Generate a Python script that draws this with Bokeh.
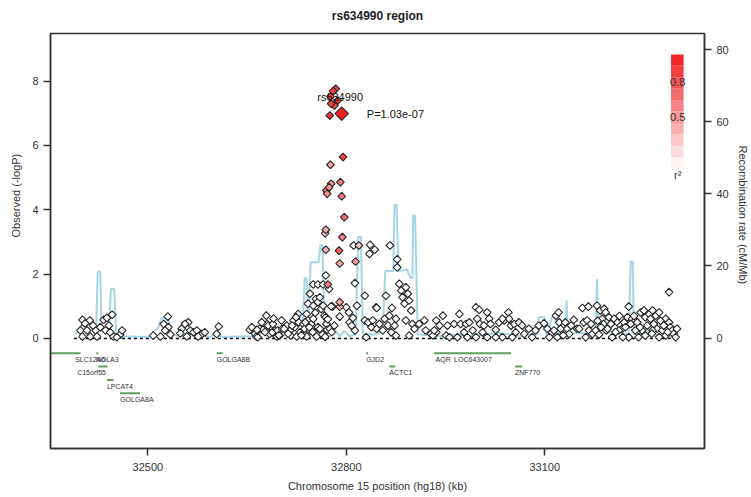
import math
from bokeh.plotting import figure
from bokeh.models import Range1d, LinearAxis, FixedTicker, Title
from bokeh.embed import file_html
from bokeh.resources import INLINE
from bokeh.core.properties import value

FONT = "Liberation Sans"
TXT = "#333333"

# ---------------- data ----------------
# SNPs with r2 ~ 0 (white): position (kb, hg18) and -log10(P)
bg_pos = (
    [32401, 32412, 32403, 32398, 32408, 32401, 32413, 32421, 32423, 32433, 32438, 32446, 32441, 32436, 32443, 32448, 32458, 32461, 32428, 32417, 32405, 32453]
    + [32530, 32524, 32531, 32526, 32508, 32519, 32534, 32561, 32556, 32551, 32549, 32564, 32569, 32574, 32559, 32582, 32586, 32576, 32607, 32604]
    + [32679, 32680, 32654, 32662, 32669, 32674, 32664, 32687, 32692, 32684, 32695, 32665, 32666, 32682, 32689, 32688, 32696, 32702, 32703, 32699]
    + [32710, 32715, 32720, 32722, 32727, 32728, 32730, 32735, 32737, 32740, 32742, 32745, 32747, 32750, 32752, 32716, 32725, 32740, 32755, 32757]
    + [32742, 32750, 32745, 32754, 32757, 32760, 32762, 32765, 32767, 32769, 32770, 32771, 32775, 32750, 32757, 32765, 32769, 32774, 32779, 32777]
    + [32790, 32800, 32804, 32805, 32808, 32813, 32816, 32813, 32810, 32828, 32828, 32833, 32830, 32838, 32840, 32845, 32846, 32846, 32850, 32855]
    + [32858, 32860, 32863, 32865, 32868, 32869, 32873, 32875, 32875, 32880, 32883, 32885, 32888, 32890, 32893, 32895, 32898, 32890, 32900, 32903]
    + [32895, 32910, 32918, 32920, 32928, 32936, 32936, 32931, 32811, 32836, 32843, 32835, 32866, 32877, 32877]
    + [32946, 32941, 32933, 32951, 32953, 32963, 32971, 32973, 32981, 32986, 32978, 32991, 32983, 32996, 33001, 32998, 33002, 33008, 33013, 33016]
    + [33018, 33006, 33013, 32996, 33026, 33031, 33039, 33045, 33046, 33036, 33049, 33054, 33061, 33056, 33066, 33069, 33076, 33081, 33086, 33091]
    + [33099, 33104, 33111, 33107, 33117, 33121, 33122, 33124, 33119, 32956, 32968, 33051, 33026, 33036, 33114, 33131, 33134, 33137, 33144, 33149]
    + [33157, 33166, 33159, 33164, 33167, 33172, 33162, 33177, 33179, 33184, 33190, 33192, 33187, 33189, 33185, 33193, 33182, 33197, 33205, 33210]
    + [33215, 33217, 33212, 33220, 33227, 33225, 33227, 33218, 33202, 33232, 33237, 33245, 33250, 33252, 33258, 33263, 33260, 33268, 33273, 33265]
    + [33270, 33278, 33283, 33288, 33290, 33293, 33288, 33295, 33298, 33247, 33252, 33242, 33273, 33283, 33237, 33263]
    + [32657, 32672, 32677, 32690, 32698, 32706, 32712, 32718, 32724, 32732, 32738, 32744, 32749, 32753, 32760, 32764, 32768, 32772, 32778, 32782]
    + [33180, 33195, 33200, 33207, 33213, 33222, 33230, 33235, 33240, 33244, 33255, 33262, 33275, 33280, 33286, 33300, 33170, 33152, 33140, 33128]
)
bg_logp = (
    [0.58, 0.56, 0.35, 0.25, 0.25, 0.06, 0.06, 0.25, 0.06, 0.58, 0.64, 0.74, 0.40, 0.25, 0.19, 0.06, 0.12, 0.25, 0.35, 0.40, 0.47, 0.04]
    + [0.68, 0.45, 0.35, 0.25, 0.09, 0.06, 0.12, 0.50, 0.45, 0.30, 0.16, 0.25, 0.19, 0.25, 0.06, 0.14, 0.19, 0.06, 0.37, 0.14]
    + [0.71, 0.45, 0.27, 0.14, 0.30, 0.27, 0.06, 0.35, 0.25, 0.14, 0.06, 0.27, 0.04, 0.40, 0.45, 0.19, 0.25, 0.56, 0.30, 0.09]
    + [0.40, 0.25, 0.56, 0.35, 0.76, 0.50, 0.19, 0.45, 0.30, 0.76, 0.56, 0.25, 0.45, 0.61, 0.19, 0.09, 0.06, 0.06, 0.06, 0.35]
    + [1.08, 1.02, 1.39, 1.23, 1.13, 1.28, 0.92, 1.02, 0.71, 0.66, 0.45, 0.27, 0.30, 1.68, 1.68, 1.68, 1.96, 1.54, 0.99, 1.00]
    + [0.68, 0.97, 0.81, 0.50, 0.40, 0.25, 1.02, 1.72, 0.64, 1.33, 0.56, 0.50, 0.04, 0.35, 0.56, 0.97, 0.30, 0.95, 0.45, 0.25]
    + [0.61, 1.33, 0.40, 0.71, 0.19, 0.95, 0.40, 0.61, 0.09, 1.70, 1.49, 1.28, 1.08, 1.59, 1.39, 1.18, 0.87, 0.56, 0.45, 0.30]
    + [0.09, 0.45, 0.56, 0.25, 0.14, 0.56, 0.19, 0.09, 2.89, 2.91, 2.76, 2.63, 2.89, 2.46, 2.21]
    + [0.71, 0.40, 0.25, 0.09, 0.40, 0.45, 0.76, 0.45, 0.45, 0.50, 0.19, 0.25, 0.04, 0.97, 0.89, 0.61, 0.45, 0.40, 0.81, 0.61]
    + [0.45, 0.19, 0.04, 0.04, 0.27, 0.50, 0.56, 0.81, 0.61, 0.04, 0.40, 0.45, 0.50, 0.19, 0.40, 0.14, 0.30, 0.04, 0.25, 0.40]
    + [0.47, 0.30, 0.19, 0.04, 0.71, 0.81, 0.50, 0.30, 0.04, 0.04, 0.04, 0.04, 0.04, 0.61, 0.25, 0.50, 0.30, 0.14, 0.58, 0.30]
    + [0.95, 0.99, 0.50, 0.56, 0.25, 0.14, 0.04, 0.25, 1.02, 0.87, 0.92, 0.81, 0.61, 0.45, 0.35, 0.25, 0.12, 0.66, 0.61, 0.50]
    + [0.40, 0.30, 0.25, 0.50, 0.99, 0.66, 0.04, 0.04, 0.04, 0.61, 0.56, 0.81, 0.87, 0.66, 0.76, 0.87, 0.61, 0.71, 0.81, 0.45]
    + [0.30, 0.25, 0.61, 0.50, 0.35, 0.25, 1.44, 0.14, 0.04, 0.25, 0.09, 0.04, 0.04, 0.09, 0.25, 0.25]
    + [0.35, 0.50, 0.20, 0.62, 0.10, 0.30, 0.15, 0.40, 0.66, 0.10, 0.50, 0.35, 0.20, 0.80, 0.30, 0.12, 0.05, 0.60, 0.20, 0.40]
    + [0.55, 0.30, 0.45, 0.20, 0.70, 0.35, 0.45, 0.70, 0.50, 0.35, 0.40, 0.15, 0.55, 0.40, 0.20, 0.30, 0.45, 0.30, 0.40, 0.10]
)

# SNPs in LD with the index SNP
ld_pos = [32784, 32780, 32776, 32787, 32777, 32782, 32775, 32795, 32776, 32791, 32777, 32774, 32770, 32771,
          32793, 32797, 32769, 32768, 32794, 32789, 32769, 32790, 32814, 32819, 32772, 32790, 32790]
ld_logp = [7.76, 7.69, 7.52, 7.40, 7.30, 7.24, 6.93, 5.64, 5.40, 4.86, 4.81, 4.70, 4.60, 4.50,
           4.42, 3.77, 3.38, 3.27, 3.15, 2.73, 2.76, 2.33, 2.39, 2.89, 1.68, 1.13, 0.99]
ld_r2 = [0.85, 0.85, 0.85, 0.9, 0.85, 0.8, 0.9, 0.85, 0.4, 0.6, 0.45, 0.5, 0.45, 0.5,
         0.6, 0.65, 0.35, 0.3, 0.55, 0.7, 0.35, 0.4, 0.45, 0.25, 0.6, 0.4, 0.3]

index_name = "rs634990"
index_pos = [32793]
index_logp = [6.99]
index_p = "P=1.03e-07"

# recombination rate (cM/Mb)
recomb_pos = [32390, 32398, 32405, 32422, 32424, 32428, 32430, 32437, 32442, 32444, 32449, 32452, 32458, 32496,
              32503, 32516, 32520, 32531, 32535, 32549, 32556, 32564, 32571, 32594, 32603, 32612, 32662, 32672,
              32677, 32684, 32692, 32722, 32730, 32734, 32737, 32740, 32743, 32746, 32754, 32758, 32761, 32764,
              32767, 32775, 32784, 32790, 32797, 32805, 32814, 32818, 32822, 32825, 32843, 32855, 32859, 32867,
              32871, 32873, 32876, 32879, 32892, 32897, 32900, 32901, 32904, 32908, 32941, 32971, 32986, 33031,
              33061, 33076, 33088, 33091, 33100, 33103, 33111, 33117, 33122, 33131, 33133, 33135, 33152, 33177,
              33179, 33181, 33205, 33227, 33230, 33233, 33235, 33258, 33273, 33303]
recomb_rate = [1, 3, 4, 4, 18.4, 18.4, 2, 2, 4, 13.6, 13.6, 1, 0.5, 0.3,
               0.5, 3, 5.5, 5.5, 1, 0.5, 1, 2.5, 1, 0.3, 1.5, 0.3, 0.5, 1.5,
               1, 1.5, 0.8, 0.8, 2, 3, 16.6, 16.6, 5, 21, 21, 21, 25.8, 25.8,
               1, 0.5, 2, 0.5, 2, 0.5, 1, 28, 28, 1, 1, 2, 18.6, 18.6,
               18.6, 37, 37, 18.6, 19, 16.7, 16.7, 34, 34, 1, 0.5, 1, 0.5, 1.5,
               0.5, 1, 1, 5.8, 5.8, 1, 5.8, 5.8, 1, 1, 10.5, 1, 1.5, 1,
               16.3, 1, 2, 1, 21.2, 21.2, 1, 2, 0.5, 0.5]

# genes
gene_names = ["SLC12A6", "NOLA3", "C15orf55", "LPCAT4", "GOLGA8A", "GOLGA8B", "GJD2", "ACTC1", "AQR", "LOC643007", "ZNF770"]
gene_start = [32320, 32422, 32425, 32438, 32458, 32604, 32830, 32865, 32933, 33020, 33055]
gene_end = [32398, 32425, 32439, 32448, 32488, 32613, 32833, 32874, 33020, 33049, 33066]
gene_row = [0, 0, 1, 2, 3, 0, 0, 1, 0, 0, 1]

x_ticks = [32500, 32800, 33100]
y_ticks = [0, 2, 4, 6, 8]
rate_ticks = [0, 20, 40, 60, 80]
legend_levels = [0.05, 0.15, 0.25, 0.35, 0.45, 0.55, 0.65, 0.75, 0.85, 0.95]

# ---------------- layout / style ----------------
ROW_Y = [-0.46, -0.87, -1.29, -1.70]
LABEL_DY = -0.20
gene_label_x = [32390, 32421, 32393, 32438, 32458, 32604, 32830, 32865, 32935, 32963, 33055]


def r2_color(r2):
    r = round(255 - 17 * r2)
    g = round(255 - 225 * r2)
    return "#%02x%02x%02x" % (r, g, g)


p = figure(width=751, height=497,
           x_range=Range1d(32352.7, 33341.6), y_range=Range1d(-3.42, 9.48),
           output_backend="svg", toolbar_location=None, title="rs634990 region",
           min_border_left=50, min_border_right=45, min_border_top=33, min_border_bottom=49)
p.extra_y_ranges = {"recomb": Range1d(-30.6, 84.45)}
p.xgrid.visible = False
p.ygrid.visible = False
p.background_fill_color = "white"
p.border_fill_color = "white"
p.outline_line_color = "#333333"
p.outline_line_width = 1.5
p.title.align = "center"
p.title.vertical_align = "top"
p.title.text_font = FONT
p.title.text_font_size = "12px"
p.title.text_font_style = "bold"
p.title.text_color = "#222222"
p.title.standoff = 17

# recombination rate
p.line(recomb_pos, recomb_rate, y_range_name="recomb", line_color="#a6d5e8", line_width=2)

# baseline
all_pos = bg_pos + ld_pos
p.line([min(all_pos) - 10, max(all_pos)], [0, 0], line_color="black", line_dash="3 3", line_width=1.5)

# genes
p.segment(x0=gene_start, x1=gene_end,
          y0=[ROW_Y[r] for r in gene_row], y1=[ROW_Y[r] for r in gene_row],
          line_color="#5f9e5f", line_width=2)
p.text(x=gene_label_x, y=[ROW_Y[r] + LABEL_DY for r in gene_row], text=gene_names,
       text_font=value(FONT), text_font_size="7px", text_color=TXT,
       text_align="left", text_baseline="middle")

# SNPs
p.scatter(bg_pos, bg_logp, marker="square", angle=math.pi / 4, size=5.5,
          fill_color="white", line_color="#262626", line_width=1.1)
order = sorted(range(len(ld_r2)), key=lambda i: ld_r2[i])
p.scatter([ld_pos[i] for i in order], [ld_logp[i] for i in order], marker="square", angle=math.pi / 4, size=5.5,
          fill_color=[r2_color(ld_r2[i]) for i in order], line_color="#262626", line_width=1.1)
p.scatter(index_pos, index_logp, marker="square", angle=math.pi / 4, size=9.5,
          fill_color=r2_color(1.0), line_color="#262626", line_width=1.1)

p.text(x=[32756], y=[7.52], text=[index_name], text_font=value(FONT), text_font_size="11px",
       text_color="#111111", text_align="left", text_baseline="middle")
p.text(x=[32831], y=index_logp, text=[index_p], text_font=value(FONT), text_font_size="11px",
       text_color="#111111", text_align="left", text_baseline="middle")

# r2 legend bar
LEG_X0, LEG_X1, LEG_Y0, LEG_Y1 = 33291, 33310, 5.28, 8.83
step = (LEG_Y1 - LEG_Y0) / len(legend_levels)
p.quad(left=LEG_X0, right=LEG_X1,
       bottom=[LEG_Y0 + i * step for i in range(len(legend_levels))],
       top=[LEG_Y0 + (i + 1) * step for i in range(len(legend_levels))],
       fill_color=[r2_color(v) for v in legend_levels], line_color=None)
p.text(x=[33301, 33301, 33301], y=[7.97, 6.90, 5.07], text=["0.8", "0.5", "r²"],
       text_font=value(FONT), text_font_size="11px", text_color=TXT,
       text_align="center", text_baseline="middle")

# axes
p.xaxis.ticker = FixedTicker(ticks=x_ticks)
p.yaxis.ticker = FixedTicker(ticks=y_ticks)
p.xaxis.axis_label = "Chromosome 15 position (hg18) (kb)"
ax_r = LinearAxis(y_range_name="recomb", ticker=FixedTicker(ticks=rate_ticks))
p.add_layout(ax_r, "right")

for ax in [p.xaxis[0], p.yaxis[0], ax_r]:
    ax.axis_line_color = "#333333"
    ax.axis_line_width = 1.5
    ax.major_tick_line_color = "#333333"
    ax.major_tick_line_width = 1.5
    ax.major_tick_out = 7
    ax.major_tick_in = 0
    ax.minor_tick_line_color = None
    ax.major_label_text_font = FONT
    ax.major_label_text_font_size = "11px"
    ax.major_label_text_color = TXT
    ax.major_label_standoff = 5
    ax.axis_label_text_font = FONT
    ax.axis_label_text_font_size = "11px"
    ax.axis_label_text_font_style = "normal"
    ax.axis_label_text_color = TXT
p.xaxis[0].major_label_standoff = 7
p.xaxis[0].axis_label_standoff = 6

# side axis titles
p.add_layout(Title(text="Observed (-logP)", align="left", offset=211, standoff=12, vertical_align="top",
                   text_font=FONT, text_font_size="11px", text_font_style="normal",
                   text_color=TXT), "left")
p.add_layout(Title(text="Recombination rate (cM/Mb)", align="left", offset=112, standoff=6, vertical_align="top",
                   text_font=FONT, text_font_size="11px", text_font_style="normal",
                   text_color=TXT), "right")

open("out.html", "w").write(file_html(p, INLINE))
